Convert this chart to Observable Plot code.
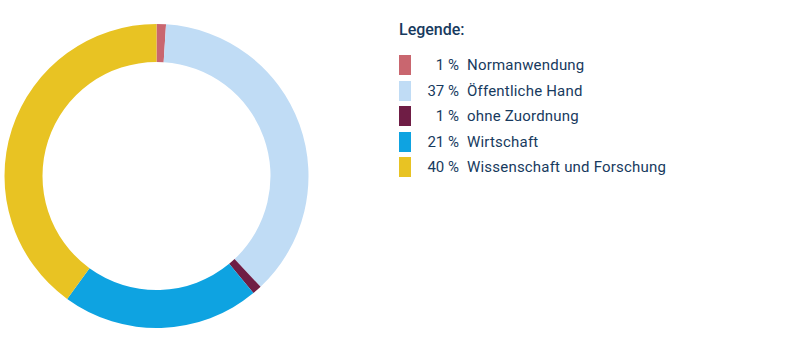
<!DOCTYPE html>
<html>
<head>
<meta charset="utf-8">
<script src="https://cdn.jsdelivr.net/npm/d3@7"></script>
<script src="https://cdn.jsdelivr.net/npm/@observablehq/plot@0.6"></script>
<style>
  html, body { margin: 0; padding: 0; background: #fff; }
  #wrap { position: relative; width: 801px; height: 351px; font-family: Roboto, "Noto Sans", sans-serif; color: #173a5e; }
  #legend { position: absolute; left: 399px; top: 20px; }
  #legend .title { font-size: 16px; font-weight: 500; margin-bottom: 15px; height: 20px; line-height: 20px; }
  #legend .row { display: flex; align-items: center; height: 20px; margin-bottom: 5.5px; font-size: 15px; }
  #legend .sw { width: 12px; height: 20px; }
  #legend .pct { width: 48px; text-align: right; white-space: nowrap; }
  #legend .lab { margin-left: 8px; white-space: nowrap; letter-spacing: 0.2px; }
</style>
</head>
<body>
<div id="wrap"></div>
<script>
const categories = ["Normanwendung", "Öffentliche Hand", "ohne Zuordnung", "Wirtschaft", "Wissenschaft und Forschung"];
const values = [1, 37, 1, 21, 40];
const colors = ["#c9666f", "#c0dcf5", "#6f1d45", "#0ea3e1", "#e8c323"];
const legendTitle = "Legende:";

const data = categories.map((c, i) => ({category: c, value: values[i]}));

function donut(index, scales) {
  const cx = scales.x(0), cy = scales.y(0);
  const R = scales.x(1) - scales.x(0);
  const r = R * 0.75;
  const pie = d3.pie().sort(null).value(d => d.value)(data);
  const arc = d3.arc().innerRadius(r).outerRadius(R);
  const g = d3.create("svg:g").attr("transform", `translate(${cx},${cy})`);
  g.selectAll("path").data(pie).join("path")
    .attr("d", arc)
    .attr("fill", d => scales.color(d.data.category));
  return g.node();
}

const chart = Plot.plot({
  width: 801,
  height: 351,
  margin: 0,
  x: {domain: [-1, 1], range: [4.5, 308.5], axis: null},
  y: {domain: [-1, 1], range: [24, 328], axis: null},
  color: {domain: categories, range: colors},
  marks: [donut]
});

const wrap = document.getElementById("wrap");
wrap.appendChild(chart);

const legend = document.createElement("div");
legend.id = "legend";
const t = document.createElement("div");
t.className = "title";
t.textContent = legendTitle;
legend.appendChild(t);
categories.forEach((c, i) => {
  const row = document.createElement("div");
  row.className = "row";
  row.innerHTML = `<div class="sw" style="background:${colors[i]}"></div><div class="pct">${values[i]}\u00a0%</div><div class="lab">${c}</div>`;
  legend.appendChild(row);
});
wrap.appendChild(legend);
</script>
</body>
</html>
